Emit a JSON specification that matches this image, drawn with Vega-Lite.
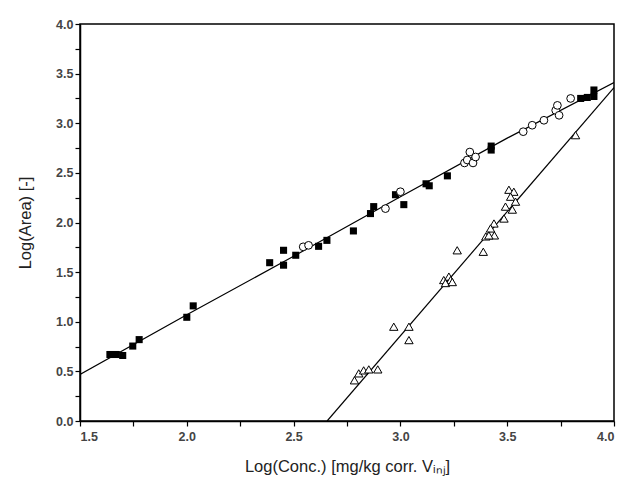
{
  "$schema": "https://vega.github.io/schema/vega-lite/v6.json",
  "width": 534,
  "height": 397,
  "autosize": "none",
  "padding": {"left": 80, "top": 24, "right": 11, "bottom": 62},
  "background": "white",
  "config": {
    "view": {"stroke": "black", "strokeWidth": 1.5},
    "axis": {
      "grid": false,
      "domainColor": "black",
      "domainWidth": 1.5,
      "tickColor": "black",
      "tickWidth": 1.2,
      "tickSize": 5,
      "labelFont": "Liberation Sans",
      "labelFontSize": 12.5,
      "labelFontWeight": "bold",
      "labelColor": "#444",
      "titleFont": "Liberation Sans",
      "titleFontSize": 16.5,
      "titleFontWeight": "normal",
      "titleColor": "#222"
    }
  },
  "datasets": {
    "pts": [
      {"x": 1.64, "y": 0.67, "s": "sq"},
      {"x": 1.67, "y": 0.67, "s": "sq"},
      {"x": 1.70, "y": 0.66, "s": "sq"},
      {"x": 1.747, "y": 0.755, "s": "sq"},
      {"x": 1.777, "y": 0.82, "s": "sq"},
      {"x": 2.0, "y": 1.045, "s": "sq"},
      {"x": 2.03, "y": 1.16, "s": "sq"},
      {"x": 2.388, "y": 1.595, "s": "sq"},
      {"x": 2.453, "y": 1.72, "s": "sq"},
      {"x": 2.453, "y": 1.57, "s": "sq"},
      {"x": 2.51, "y": 1.67, "s": "sq"},
      {"x": 2.617, "y": 1.76, "s": "sq"},
      {"x": 2.656, "y": 1.82, "s": "sq"},
      {"x": 2.78, "y": 1.915, "s": "sq"},
      {"x": 2.86, "y": 2.09, "s": "sq"},
      {"x": 2.875, "y": 2.16, "s": "sq"},
      {"x": 2.977, "y": 2.28, "s": "sq"},
      {"x": 3.016, "y": 2.18, "s": "sq"},
      {"x": 3.12, "y": 2.39, "s": "sq"},
      {"x": 3.135, "y": 2.37, "s": "sq"},
      {"x": 3.22, "y": 2.47, "s": "sq"},
      {"x": 3.425, "y": 2.73, "s": "sq"},
      {"x": 3.425, "y": 2.77, "s": "sq"},
      {"x": 3.844, "y": 3.25, "s": "sq"},
      {"x": 3.875, "y": 3.26, "s": "sq"},
      {"x": 3.906, "y": 3.335, "s": "sq"},
      {"x": 3.906, "y": 3.27, "s": "sq"},
      {"x": 2.545, "y": 1.755, "s": "ci"},
      {"x": 2.57, "y": 1.77, "s": "ci"},
      {"x": 2.93, "y": 2.14, "s": "ci"},
      {"x": 3.0, "y": 2.31, "s": "ci"},
      {"x": 3.30, "y": 2.60, "s": "ci"},
      {"x": 3.313, "y": 2.63, "s": "ci"},
      {"x": 3.34, "y": 2.60, "s": "ci"},
      {"x": 3.325, "y": 2.71, "s": "ci"},
      {"x": 3.352, "y": 2.66, "s": "ci"},
      {"x": 3.575, "y": 2.915, "s": "ci"},
      {"x": 3.617, "y": 2.98, "s": "ci"},
      {"x": 3.672, "y": 3.03, "s": "ci"},
      {"x": 3.727, "y": 3.13, "s": "ci"},
      {"x": 3.743, "y": 3.08, "s": "ci"},
      {"x": 3.735, "y": 3.18, "s": "ci"},
      {"x": 3.797, "y": 3.25, "s": "ci"},
      {"x": 2.785, "y": 0.41, "s": "tr"},
      {"x": 2.805, "y": 0.48, "s": "tr"},
      {"x": 2.828, "y": 0.51, "s": "tr"},
      {"x": 2.852, "y": 0.52, "s": "tr"},
      {"x": 2.894, "y": 0.52, "s": "tr"},
      {"x": 2.969, "y": 0.95, "s": "tr"},
      {"x": 3.04, "y": 0.95, "s": "tr"},
      {"x": 3.04, "y": 0.815, "s": "tr"},
      {"x": 3.203, "y": 1.42, "s": "tr"},
      {"x": 3.227, "y": 1.455, "s": "tr"},
      {"x": 3.235, "y": 1.42, "s": "tr"},
      {"x": 3.211, "y": 1.39, "s": "tr"},
      {"x": 3.243, "y": 1.40, "s": "tr"},
      {"x": 3.266, "y": 1.72, "s": "tr"},
      {"x": 3.388, "y": 1.705, "s": "tr"},
      {"x": 3.40, "y": 1.86, "s": "tr"},
      {"x": 3.44, "y": 1.87, "s": "tr"},
      {"x": 3.508, "y": 2.33, "s": "tr"},
      {"x": 3.531, "y": 2.31, "s": "tr"},
      {"x": 3.516, "y": 2.26, "s": "tr"},
      {"x": 3.539, "y": 2.21, "s": "tr"},
      {"x": 3.492, "y": 2.16, "s": "tr"},
      {"x": 3.524, "y": 2.13, "s": "tr"},
      {"x": 3.485, "y": 2.04, "s": "tr"},
      {"x": 3.438, "y": 1.99, "s": "tr"},
      {"x": 3.422, "y": 1.94, "s": "tr"},
      {"x": 3.414, "y": 1.87, "s": "tr"},
      {"x": 3.82, "y": 2.88, "s": "tr"}
    ],
    "fits": [
      {"x": 1.5, "y": 0.47, "f": "a"},
      {"x": 2.0, "y": 1.07, "f": "a"},
      {"x": 2.5, "y": 1.66, "f": "a"},
      {"x": 3.0, "y": 2.26, "f": "a"},
      {"x": 3.5, "y": 2.85, "f": "a"},
      {"x": 4.0, "y": 3.41, "f": "a"},
      {"x": 2.657, "y": 0.0, "f": "b"},
      {"x": 4.0, "y": 3.36, "f": "b"}
    ]
  },
  "encoding": {
    "x": {
      "field": "x", "type": "quantitative",
      "scale": {"domain": [1.5, 4.0], "nice": false, "zero": false},
      "axis": {
        "title": "Log(Conc.) [mg/kg corr. Vᵢₙⱼ]",
        "values": [1.5, 1.75, 2.0, 2.25, 2.5, 2.75, 3.0, 3.25, 3.5, 3.75, 4.0],
        "labelExpr": "datum.value % 0.5 == 0 ? format(datum.value, '.1f') : ''",
        "labelPadding": 4,
        "titlePadding": 16
      }
    },
    "y": {
      "field": "y", "type": "quantitative",
      "scale": {"domain": [0, 4.0], "nice": false},
      "axis": {
        "title": "Log(Area) [-]",
        "values": [0, 0.25, 0.5, 0.75, 1.0, 1.25, 1.5, 1.75, 2.0, 2.25, 2.5, 2.75, 3.0, 3.25, 3.5, 3.75, 4.0],
        "labelExpr": "datum.value % 0.5 == 0 ? format(datum.value, '.1f') : ''",
        "titlePadding": 22
      }
    }
  },
  "layer": [
    {
      "data": {"name": "fits"},
      "mark": {"type": "line", "color": "black", "strokeWidth": 1.2, "clip": true},
      "encoding": {"detail": {"field": "f"}}
    },
    {
      "data": {"name": "pts"},
      "transform": [{"filter": "datum.s == 'sq'"}],
      "mark": {"type": "point", "shape": "square", "filled": true, "color": "black", "size": 50, "opacity": 1}
    },
    {
      "data": {"name": "pts"},
      "transform": [{"filter": "datum.s == 'ci'"}],
      "mark": {"type": "point", "shape": "circle", "filled": false, "color": "black", "fill": "white", "fillOpacity": 1, "size": 60, "strokeWidth": 1, "opacity": 1}
    },
    {
      "data": {"name": "pts"},
      "transform": [{"filter": "datum.s == 'tr'"}],
      "mark": {"type": "point", "shape": "triangle-up", "filled": false, "color": "black", "fill": "white", "fillOpacity": 1, "size": 70, "strokeWidth": 1, "opacity": 1}
    }
  ]
}
